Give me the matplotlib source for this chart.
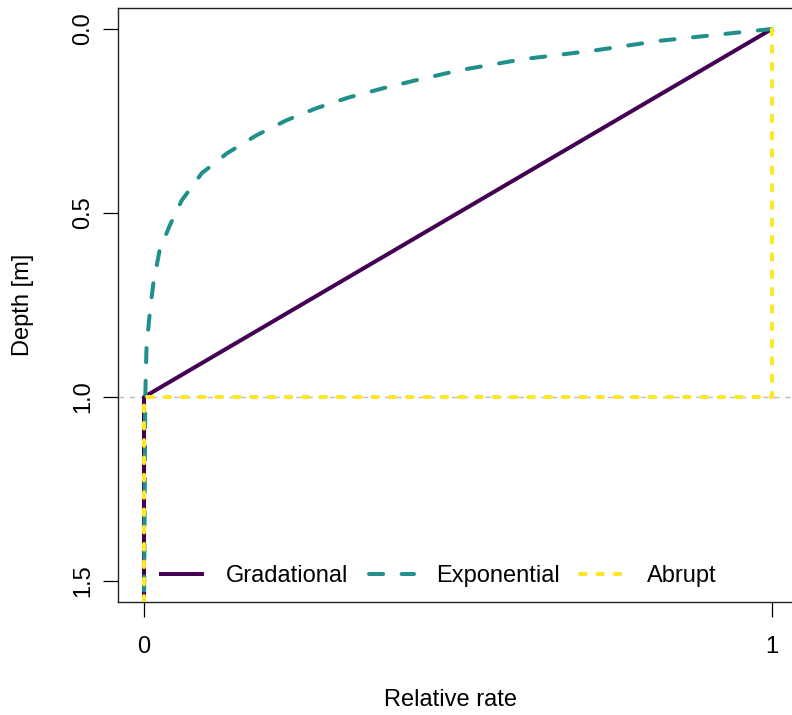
import matplotlib
matplotlib.use("Agg")
import matplotlib.pyplot as plt

plt.rcParams["font.family"] = ["Liberation Sans", "DejaVu Sans"]

# depth profiles of relative rate
grad_depth = [0.0, 1.0, 1.6]
grad_rate = [1.0, 0.0, 0.0]

exp_depth = [0.0, 0.012, 0.032, 0.059, 0.082, 0.112, 0.139, 0.161, 0.185, 0.215,
             0.248, 0.289, 0.338, 0.392, 0.466, 0.534, 0.60, 0.69, 0.765, 0.865,
             1.0, 1.6]
exp_rate = [1.0, 0.933, 0.822, 0.715, 0.604, 0.503, 0.434, 0.381, 0.328, 0.275,
            0.227, 0.179, 0.132, 0.092, 0.060, 0.041, 0.025, 0.015, 0.0096, 0.004,
            0.002, 0.0]

abr_depth = [0.0, 1.0, 1.0, 1.6]
abr_rate = [1.0, 1.0, 0.0, 0.0]

x_ticks = [0, 1]
x_ticklabels = ["0", "1"]
y_ticks = [0.0, 0.5, 1.0, 1.5]
y_ticklabels = ["0.0", "0.5", "1.0", "1.5"]

fs = 17
lw = 2.9

fig = plt.figure(figsize=(7.92, 7.15), dpi=100)
ax = fig.add_axes([118 / 792, 113 / 715, 679 / 792, 594 / 715])

ax.axhline(1.0, color="#BEBEBE", lw=1.0, dashes=(4, 4), zorder=1)

ax.plot(grad_rate, grad_depth, color="#440154", lw=lw, label="Gradational",
        solid_capstyle="butt", zorder=2)
ax.plot(exp_rate, exp_depth, color="#21908C", lw=lw, dashes=(3.5, 4.6),
        dash_capstyle="round", label="Exponential", zorder=3)
ax.plot(abr_rate, abr_depth, color="#FDE725", lw=lw, dashes=(1.4, 2.9),
        dash_capstyle="round", label="Abrupt", zorder=4)

ax.set_xlim(-0.0414, 1.04)
ax.set_ylim(1.557, -0.057)

ax.set_xticks(x_ticks)
ax.set_xticklabels(x_ticklabels)
ax.set_yticks(y_ticks)
ax.set_yticklabels(y_ticklabels, rotation=90, va="center")

ax.tick_params(direction="out", length=10.8, width=0.9, labelsize=fs, colors="black")
ax.tick_params(axis="x", pad=14)
ax.tick_params(axis="y", pad=6.5)
for s in ax.spines.values():
    s.set_linewidth(1.0)
    s.set_color("#222222")

ax.set_xlabel("Relative rate", fontsize=fs)
ax.set_ylabel("Depth [m]", fontsize=fs)
ax.xaxis.set_label_coords(0.489, -0.146)
ax.yaxis.set_label_coords(-0.123, 0.5)

ax.legend(loc="center left", bbox_to_anchor=(0.0604, 0.043), ncol=3, frameon=False,
          fontsize=fs, handlelength=1.9, handletextpad=0.95, columnspacing=0.85,
          borderpad=0, borderaxespad=0)

fig.savefig("out.png", dpi=100)
